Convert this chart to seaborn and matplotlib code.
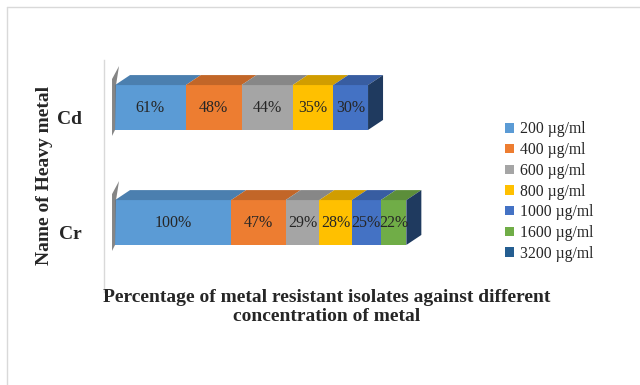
import numpy as np
import pandas as pd
import matplotlib
matplotlib.use("Agg")
import matplotlib.pyplot as plt
import matplotlib.colors as mcolors
from matplotlib.patches import Polygon, Patch
from matplotlib.lines import Line2D
from matplotlib.transforms import ScaledTranslation
import seaborn as sns

# Data
metals = ["Cd", "Cr"]
concentrations = ["200 µg/ml", "400 µg/ml", "600 µg/ml", "800 µg/ml",
                  "1000 µg/ml", "1600 µg/ml", "3200 µg/ml"]
cd_values = [61, 48, 44, 35, 30, 0, 0]
cr_values = [100, 47, 29, 28, 25, 22, 0]
colors = ["#5B9BD5", "#ED7D31", "#A5A5A5", "#FFC000", "#4472C4", "#70AD47", "#255E91"]

sns.set_style("white")
plt.rcParams["font.family"] = ["Liberation Serif", "DejaVu Serif"]

df = pd.DataFrame([cd_values, cr_values], index=metals, columns=concentrations)
cum = df.cumsum(axis=1)

W, H = 640, 385
fig = plt.figure(figsize=(W / 100, H / 100), dpi=100)
ax = fig.add_axes([104 / W, 1 - 292 / H, 336 / W, 232 / H])

bar_h = 0.39
# stacked bars: draw cumulative totals from the outermost inwards
for i in reversed(range(len(concentrations))):
    sns.barplot(x=cum.iloc[:, i].values, y=metals, color=colors[i], orient="h",
                width=bar_h, saturation=1, ax=ax, linewidth=0)

ax.set_xlim(-9.5, 280)
ax.set_ylim(1.604, -0.413)

# pixel -> data conversion for the 3D depth
px_x = 336 / (280 + 9.5)
px_y = 232 / (1.604 + 0.413)
dx, dy = 15 / px_x, 10 / px_y


def shade(c, f):
    r, g, b = mcolors.to_rgb(c)
    return (r * f, g * f, b * f)


centers = range(len(metals))
for row, c in zip(metals, centers):
    vals = df.loc[row].values
    lefts = cum.loc[row].values - vals
    top = c - bar_h / 2
    bot = c + bar_h / 2
    # grey wall on the left
    x0 = lefts[0]
    wall = [(x0 - 3 / px_x, bot + 6 / px_y), (x0 - 3 / px_x, top - 6 / px_y),
            (x0 + 4 / px_x, top - 19 / px_y), (x0 + 1 / px_x, top), (x0, bot)]
    ax.add_patch(Polygon(wall, closed=True, facecolor="#707070", edgecolor="none", alpha=0.85))
    last = None
    for v, l, col in zip(vals, lefts, colors):
        if v <= 0:
            continue
        ax.add_patch(Polygon([(l, top), (l + v, top), (l + v + dx, top - dy), (l + dx, top - dy)],
                             closed=True, facecolor=shade(col, 0.82), edgecolor="none"))
        ax.text(l + v / 2, c, f"{v}%", ha="center", va="center", fontsize=11.5, color="#262626")
        last = l + v
    ax.add_patch(Polygon([(last, top), (last + dx, top - dy), (last + dx, bot - dy), (last, bot)],
                         closed=True, facecolor="#1F3A5F", edgecolor="none"))

ax.set_xlabel("")
ax.set_ylabel("")
ax.set_xticks([])
ax.tick_params(axis="y", length=0, pad=16)
for lab in ax.get_yticklabels():
    lab.set_fontweight("bold")
    lab.set_fontsize(14)
    lab.set_transform(lab.get_transform() + ScaledTranslation(0, -10 / 100, fig.dpi_scale_trans))
for s in ["top", "right", "bottom"]:
    ax.spines[s].set_visible(False)
ax.spines["left"].set_color("#d9d9d9")
ax.spines["left"].set_linewidth(1)

fig.text(45 / W, 1 - 175 / H, "Name of Heavy metal", rotation=90, ha="center", va="center",
         fontsize=14, fontweight="bold")
fig.text(327 / W, 1 - 307 / H, "Percentage of metal resistant isolates against different\nconcentration of metal",
         ha="center", va="center", fontsize=14, fontweight="bold", linespacing=1.1)

handles = [Patch(facecolor=c, edgecolor="none") for c in colors]
fig.legend(handles, concentrations, loc="center left", bbox_to_anchor=(505 / W, 1 - 191.5 / H),
           frameon=False, fontsize=11.3, handlelength=0.55, handleheight=0.55,
           handletextpad=0.4, labelspacing=0.3, borderpad=0, borderaxespad=0)

# outer chart frame
fig.add_artist(Line2D([7 / W, 7 / W], [0, 1 - 7 / H], color="#d9d9d9", lw=1))
fig.add_artist(Line2D([7 / W, 1], [1 - 7 / H, 1 - 7 / H], color="#d9d9d9", lw=1))

fig.savefig("out.png", dpi=100)
